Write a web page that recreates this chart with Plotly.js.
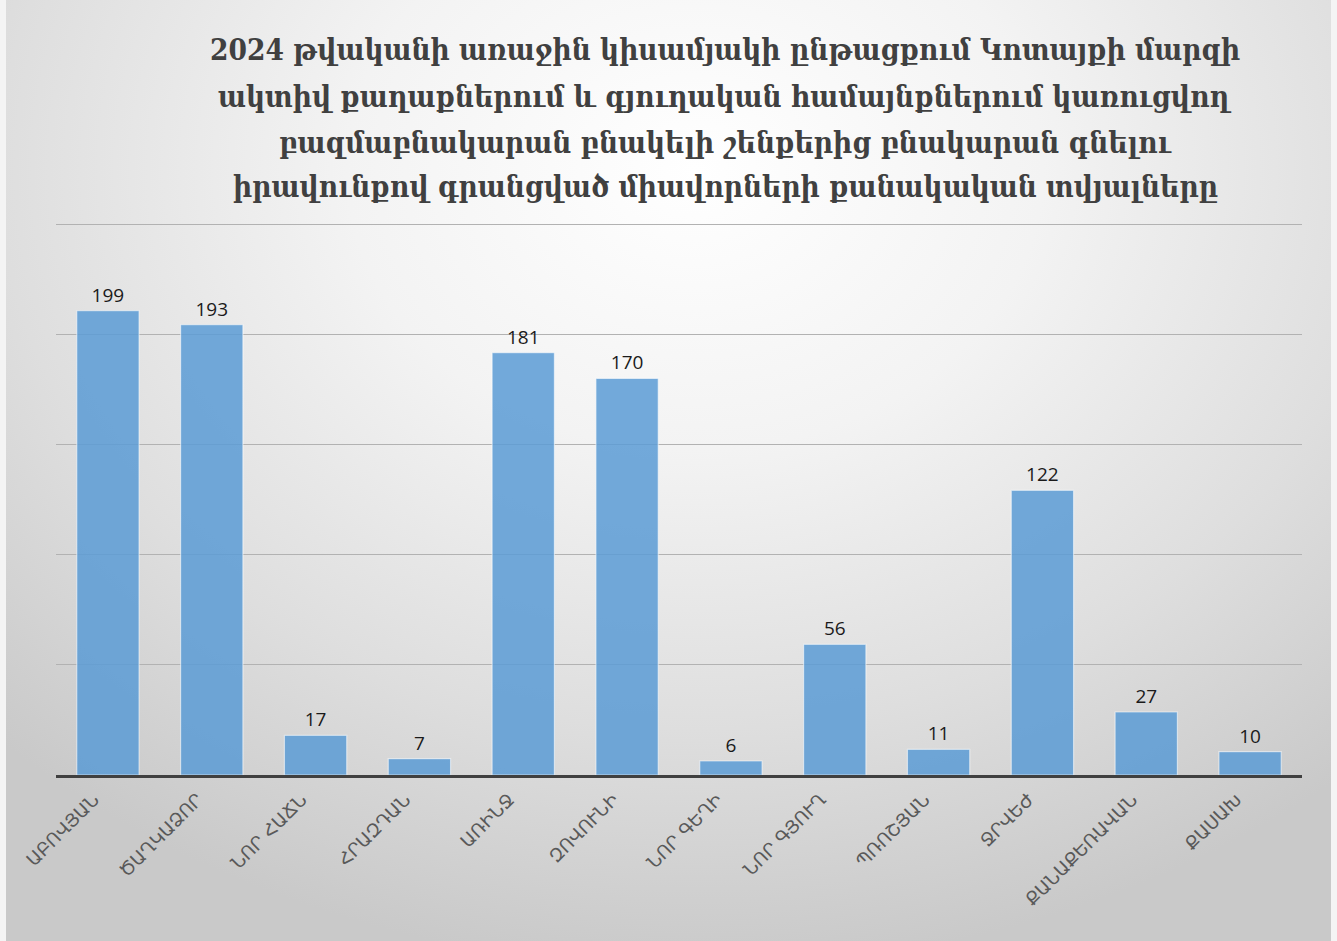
<!DOCTYPE html>
<html>
<head>
<meta charset="utf-8">
<script src="https://cdn.plot.ly/plotly-3.0.1.min.js"></script>
<style>
  html, body { margin: 0; padding: 0; background: #ffffff; }
  #chart {
    width: 1337px; height: 941px;
    background: radial-gradient(ellipse 75% 85% at 52% 18%, #ffffff 0%, #f3f3f3 35%, #dedede 70%, #c9c9c9 100%);
    box-sizing: border-box;
    border-left: 6px solid #f4f4f4;
    border-right: 6px solid #f4f4f4;
  }
</style>
</head>
<body>
<div id="chart"></div>
<script>
const categories = ["ԱԲՈՎՅԱՆ", "ԾԱՂԿԱՁՈՐ", "ՆՈՐ ՀԱՃՆ", "ՀՐԱԶԴԱՆ", "ԱՌԻՆՋ", "ԶՈՎՈՒՆԻ", "ՆՈՐ ԳԵՂԻ", "ՆՈՐ ԳՅՈՒՂ", "ՊՌՈՇՅԱՆ", "ՋՐՎԵԺ", "ՔԱՆԱՔԵՌԱՎԱՆ", "ՔԱՍԱԽ"];
const values = [199, 193, 17, 7, 181, 170, 6, 56, 11, 122, 27, 10];
const titleLines = [
  "2024 թվականի առաջին կիսամյակի ընթացքում Կոտայքի մարզի",
  "ակտիվ քաղաքներում և գյուղական համայնքներում կառուցվող",
  "բազմաբնակարան բնակելի շենքերից բնակարան գնելու",
  "իրավունքով գրանցված միավորների քանակական տվյալները"
];
</script>
<script>
const trace = {
  type: "bar",
  x: categories,
  y: values,
  text: values.map(String),
  textposition: "outside",
  cliponaxis: false,
  textfont: { family: "Open Sans, sans-serif", size: 19, color: "#1a1a1a" },
  marker: { color: "rgba(91,155,213,0.85)", line: { color: "rgba(255,255,255,0.55)", width: 1.2 } },
  hoverinfo: "skip"
};
const plotTop = 218, plotH = 941 - 166 - plotTop;
const lineY = [50, 96, 142, 186];
const titleAnnotations = titleLines.map((t, i) => ({
  text: t,
  xref: "paper", yref: "paper",
  x: 0.537, xanchor: "center",
  y: 1 + (plotTop - lineY[i]) / plotH, yanchor: "middle",
  showarrow: false,
  font: { family: "DejaVu Serif Condensed, DejaVu Serif, serif", size: 29.5, color: "#404040", weight: "bold" }
}));
const layout = {
  width: 1325, height: 941,
  paper_bgcolor: "rgba(0,0,0,0)",
  plot_bgcolor: "rgba(0,0,0,0)",
  margin: { l: 50, r: 29, t: plotTop, b: 166 },
  bargap: 0.4,
  showlegend: false,
  annotations: titleAnnotations,
  xaxis: {
    type: "category",
    tickangle: -45,
    ticklabelshift: -14,
    ticklabelstandoff: 4,
    tickfont: { family: "DejaVu Sans, sans-serif", size: 18, color: "#595959" },
    showline: true, linecolor: "#404040", linewidth: 3,
    ticks: "", showgrid: false, zeroline: false
  },
  yaxis: {
    range: [0, plotH / 2.333],
    dtick: 47.2, tick0: 0,
    showticklabels: false,
    showgrid: true, gridcolor: "#b2b2b2", gridwidth: 1,
    zeroline: false, ticks: "", showline: false
  }
};
Plotly.newPlot("chart", [trace], layout, { displayModeBar: false, staticPlot: true });
</script>
</body>
</html>
